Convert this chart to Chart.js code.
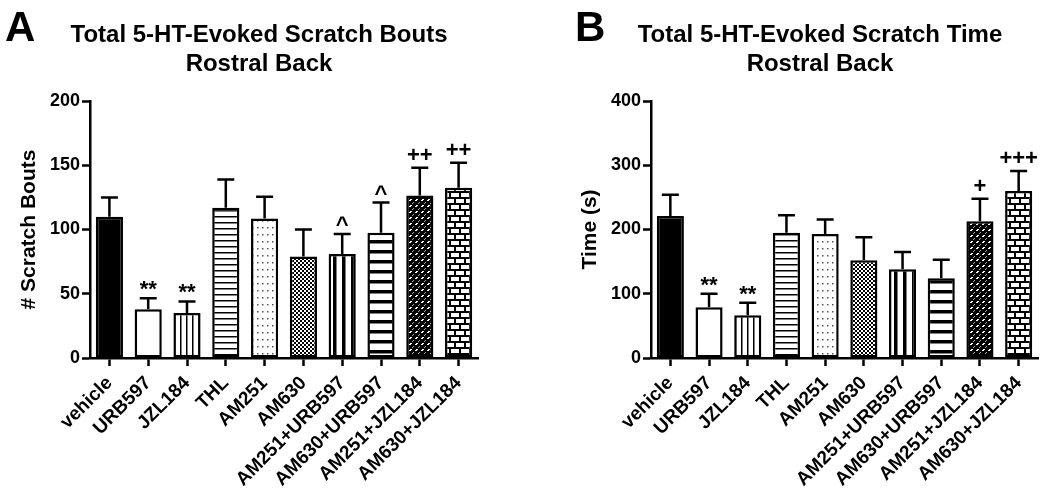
<!DOCTYPE html>
<html lang="en">
<head>
<meta charset="UTF-8">
<title>Total 5-HT-Evoked Scratching - Rostral Back</title>
<script src="https://cdn.jsdelivr.net/npm/chart.js@4.4.0/dist/chart.umd.min.js"></script>
<style>
  body { margin: 0; background: #fff; overflow: hidden; font-family: "Liberation Sans", Arial, sans-serif; }
  #wrap { position: relative; width: 1050px; height: 498px; }
  canvas { position: absolute; top: 0; }
  .letter { position: absolute; top: 6px; font-weight: bold; font-size: 42px; line-height: 42px; }
  .title { position: absolute; top: 19px; width: 440px; font-weight: bold; font-size: 24px; line-height: 29px; text-align: center; }
</style>
</head>
<body>
<div id="wrap">
  <canvas id="chartA" width="525" height="498" style="left:0"></canvas>
  <canvas id="chartB" width="525" height="498" style="left:525px"></canvas>
  <div class="letter" style="left:5px">A</div>
  <div class="title" style="left:39px">Total 5-HT-Evoked Scratch Bouts<br>Rostral Back</div>
  <div class="letter" style="left:575px">B</div>
  <div class="title" style="left:600px">Total 5-HT-Evoked Scratch Time<br>Rostral Back</div>
</div>

<script>
const groups = ['vehicle', 'URB597', 'JZL184', 'THL', 'AM251', 'AM630',
                'AM251+URB597', 'AM630+URB597', 'AM251+JZL184', 'AM630+JZL184'];

// panel A: scratch bouts (mean, SEM, significance marks)
const boutsMean = [110, 38, 35, 117, 108.5, 79, 81, 97.5, 126.5, 132.5];
const boutsSem  = [15, 8.5, 9, 22, 17, 21, 15.5, 23.5, 21.5, 19.5];
const boutsMarks = ['', '**', '**', '', '', '', '^', '^', '++', '++'];

// panel B: scratch time in seconds
const timeMean = [221, 79, 66.5, 195, 193, 152, 138, 124, 213, 260];
const timeSem  = [33, 21, 19.5, 27, 22.5, 36, 27, 29, 35, 31];
const timeMarks = ['', '**', '**', '', '', '', '', '', '+', '+++'];

const FONT = '"Liberation Sans", Arial, sans-serif';
Chart.defaults.font.family = FONT;
Chart.defaults.color = '#000';

// small repeating tiles for the hatched bars
function tile(w, h, draw) {
  const c = document.createElement('canvas');
  c.width = w; c.height = h;
  const g = c.getContext('2d');
  g.fillStyle = '#fff';
  g.fillRect(0, 0, w, h);
  g.fillStyle = '#000';
  draw(g);
  return g.createPattern(c, 'repeat');
}

const fills = [
  '#000',
  '#fff',
  tile(6, 4, g => g.fillRect(0, 0, 1.5, 4)),                 // thin vertical
  tile(4, 6, g => g.fillRect(0, 0, 4, 1.5)),                 // thin horizontal
  tile(5, 7, g => { g.fillStyle = '#555'; g.fillRect(2, 3, 1.5, 1.5); }), // dots
  tile(4, 4, g => { g.fillRect(0, 0, 2, 2); g.fillRect(2, 2, 2, 2); }),   // checker
  tile(9, 4, g => g.fillRect(0, 0, 3.5, 4)),                 // thick vertical
  tile(4, 10, g => g.fillRect(0, 0, 4, 3.5)),                // thick horizontal
  tile(6, 6, g => {                                          // dark speckle
    g.fillRect(0, 0, 6, 6);
    g.fillStyle = '#fff';
    g.fillRect(2, 1, 2, 1); g.fillRect(1, 2, 2, 1);
    g.fillStyle = '#aaa';
    g.fillRect(5, 4, 1, 1); g.fillRect(4, 5, 1, 1);
  }),
  tile(10, 12, g => {                                        // brick
    g.fillRect(0, 0, 10, 12);
    g.fillStyle = '#fff';
    g.fillRect(1, 1, 8, 4);
    g.fillRect(6, 7, 8, 4); g.fillRect(-4, 7, 8, 4);
  })
];

// SEM whiskers (up only) and the significance symbols above them
const errorBars = {
  id: 'errorBars',
  afterDatasetsDraw(chart) {
    const ctx = chart.ctx;
    const y = chart.scales.y;
    const ds = chart.data.datasets[0];
    const meta = chart.getDatasetMeta(0);
    ctx.save();
    ctx.strokeStyle = '#000';
    ctx.fillStyle = '#000';
    ctx.lineWidth = 2.5;
    ctx.font = 'bold 22px ' + FONT;
    ctx.textAlign = 'center';
    meta.data.forEach((bar, i) => {
      const top = y.getPixelForValue(ds.data[i]);
      const cap = y.getPixelForValue(ds.data[i] + ds.sem[i]);
      ctx.beginPath();
      ctx.moveTo(bar.x, top);
      ctx.lineTo(bar.x, cap);
      ctx.moveTo(bar.x - 8.5, cap);
      ctx.lineTo(bar.x + 8.5, cap);
      ctx.stroke();
      const mark = ds.marks[i];
      if (mark) {
        const m = ctx.measureText(mark);
        ctx.fillText(mark, bar.x, cap - 8 - m.actualBoundingBoxDescent);
      }
    });
    ctx.restore();
  }
};

function makePanel(id, mean, sem, marks, yMax, step, yTitle, pad) {
  const grid = { drawOnChartArea: false, drawTicks: true, tickLength: 8, tickWidth: 2.5, tickColor: '#000', offset: false };
  const border = { display: true, color: '#000', width: 2.5 };
  return new Chart(document.getElementById(id), {
    type: 'bar',
    data: {
      labels: groups,
      datasets: [{
        data: mean,
        sem: sem,
        marks: marks,
        backgroundColor: fills,
        borderColor: '#000',
        borderWidth: 2.5,
        borderSkipped: false,
        barPercentage: 0.7,
        categoryPercentage: 1
      }]
    },
    options: {
      responsive: false,
      animation: false,
      layout: { padding: pad },
      plugins: { legend: { display: false }, tooltip: { enabled: false } },
      scales: {
        x: {
          offset: true,
          grid: grid,
          border: border,
          ticks: { font: { size: 19, weight: 'bold' }, color: '#000', minRotation: 45, maxRotation: 45, autoSkip: false, padding: 6 },
          afterFit: s => { s.height = 140; }
        },
        y: {
          min: 0,
          max: yMax,
          grid: grid,
          border: border,
          ticks: { stepSize: step, font: { size: 18, weight: 'bold' }, color: '#000', padding: 2 },
          title: { display: true, text: yTitle, color: '#000', font: { size: 21, weight: 'bold' }, padding: 0 },
          afterFit: s => { s.width = 73; }
        }
      }
    },
    plugins: [errorBars]
  });
}

makePanel('chartA', boutsMean, boutsSem, boutsMarks, 200, 50, '# Scratch Bouts',
          { top: 101, left: 17, right: 47, bottom: 0 });
makePanel('chartB', timeMean, timeSem, timeMarks, 400, 100, 'Time (s)',
          { top: 101, left: 53, right: 12, bottom: 0 });
</script>
</body>
</html>
